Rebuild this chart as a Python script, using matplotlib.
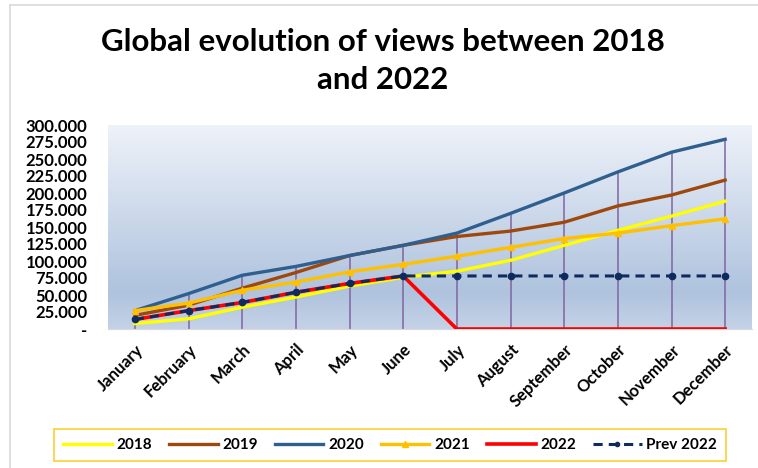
import numpy as np
import matplotlib
matplotlib.use("Agg")
import matplotlib.pyplot as plt
from matplotlib.colors import LinearSegmentedColormap
from matplotlib.lines import Line2D
from matplotlib.ticker import FuncFormatter
from matplotlib.transforms import ScaledTranslation

months = ["January", "February", "March", "April", "May", "June", "July",
          "August", "September", "October", "November", "December"]

views_2018 = [8000, 15000, 32000, 47000, 63000, 76000, 85000, 101000, 123000, 145000, 166000, 188000]
views_2019 = [20000, 35000, 60000, 83000, 108000, 123000, 136000, 144000, 157000, 181000, 197000, 219000]
views_2020 = [27000, 52000, 79000, 92000, 108000, 123000, 141000, 170000, 200000, 231000, 260000, 279000]
views_2021 = [27000, 38000, 57000, 69000, 84000, 95000, 107000, 120000, 133000, 141000, 152000, 162000]
views_2022 = [14000, 27000, 39000, 54000, 67000, 78000, 0, 0, 0, 0, 0, 0]
prev_2022 = [14000, 27000, 39000, 54000, 67000, 78000, 78000, 78000, 78000, 78000, 78000, 78000]

y_ticks = list(range(0, 300001, 25000))

plt.rcParams["font.family"] = ["Lato", "DejaVu Sans"]

fig = plt.figure(figsize=(7.58, 4.68), dpi=100)
ax = fig.add_axes([108 / 758, 1 - 329 / 468, 644 / 758, 204 / 468])

# plot area gradient (light at top, steel blue near bottom)
grad = LinearSegmentedColormap.from_list(
    "bg", [(0.0, "#c4d2e6"), (0.18, "#afc3de"), (1.0, "#eef2f9")])
ax.imshow(np.linspace(0, 1, 256).reshape(-1, 1), cmap=grad, origin="lower",
          aspect="auto", extent=(-0.5, 11.5, 0, 300000), zorder=0)

x = np.arange(len(months))
tops = np.max([views_2018, views_2019, views_2020, views_2021, views_2022, prev_2022], axis=0)
ax.vlines(x, 0, tops, color="#8064a2", linewidth=1.1, zorder=1)

ax.plot(x, views_2018, color="#ffff00", linewidth=2.4, zorder=3)
ax.plot(x, views_2019, color="#9e480e", linewidth=2.4, zorder=3)
ax.plot(x, views_2020, color="#2f5f8f", linewidth=2.4, zorder=3)
ax.plot(x, views_2021, color="#ffc000", linewidth=2.4, marker="^", markersize=5, zorder=3)
ax.plot(x, views_2022, color="#ff0000", linewidth=2.6, zorder=4)
ax.plot(x, prev_2022, color="#0f2a5c", linewidth=2.2, linestyle=(0, (3, 2)),
        marker="o", markersize=4.5, zorder=5)

ax.set_xlim(-0.5, 11.5)
ax.set_ylim(0, 300000)
ax.set_yticks(y_ticks)
ax.yaxis.set_major_formatter(FuncFormatter(
    lambda v, _: "-" if v == 0 else f"{int(v):,}".replace(",", ".")))
ax.set_xticks(x)
ax.set_xticklabels(months, rotation=45, ha="right", rotation_mode="anchor")
shift = ScaledTranslation(10 / 100, 0, fig.dpi_scale_trans)
for lab in ax.get_xticklabels():
    lab.set_fontweight("bold")
    lab.set_fontsize(12)
    lab.set_transform(lab.get_transform() + shift)
for lab in ax.get_yticklabels():
    lab.set_fontweight("bold")
    lab.set_fontsize(12)
ax.tick_params(axis="both", length=0)
ax.tick_params(axis="y", pad=15)
ax.tick_params(axis="x", pad=9)
for side in ["left", "top", "right"]:
    ax.spines[side].set_visible(False)
ax.spines["bottom"].set_color("#d9d9d9")

fig.text(383 / 758, 1 - 42 / 468, "Global evolution of views between 2018",
         ha="center", va="center", fontsize=22.5, fontweight="bold")
fig.text(383 / 758, 1 - 80 / 468, "and 2022",
         ha="center", va="center", fontsize=22.5, fontweight="bold")

handles = [
    Line2D([], [], color="#ffff00", linewidth=2.4),
    Line2D([], [], color="#9e480e", linewidth=2.4),
    Line2D([], [], color="#2f5f8f", linewidth=2.4),
    Line2D([], [], color="#ffc000", linewidth=2.4, marker="^", markersize=4),
    Line2D([], [], color="#ff0000", linewidth=2.6),
    Line2D([], [], color="#0f2a5c", linewidth=2.2, linestyle=(0, (3, 2)), marker="o", markersize=3),
]
leg = fig.legend(handles, ["2018", "2019", "2020", "2021", "2022", "Prev 2022"],
                 ncol=6, loc="center", bbox_to_anchor=(390 / 758, 1 - 445 / 468),
                 frameon=True, fancybox=False, handlelength=3.2, columnspacing=1.1,
                 handletextpad=0.3, borderpad=0.6,
                 prop={"weight": "bold", "size": 11})
leg.get_frame().set_edgecolor("#ffc000")
leg.get_frame().set_linewidth(1.2)

# chart area border (left and top edges visible in the crop)
fig.add_artist(Line2D([10 / 758, 10 / 758], [0, 1 - 5 / 468], color="#d9d9d9", linewidth=1.2))
fig.add_artist(Line2D([10 / 758, 1], [1 - 5 / 468, 1 - 5 / 468], color="#d9d9d9", linewidth=1.2))

fig.savefig("out.png", dpi=100)
